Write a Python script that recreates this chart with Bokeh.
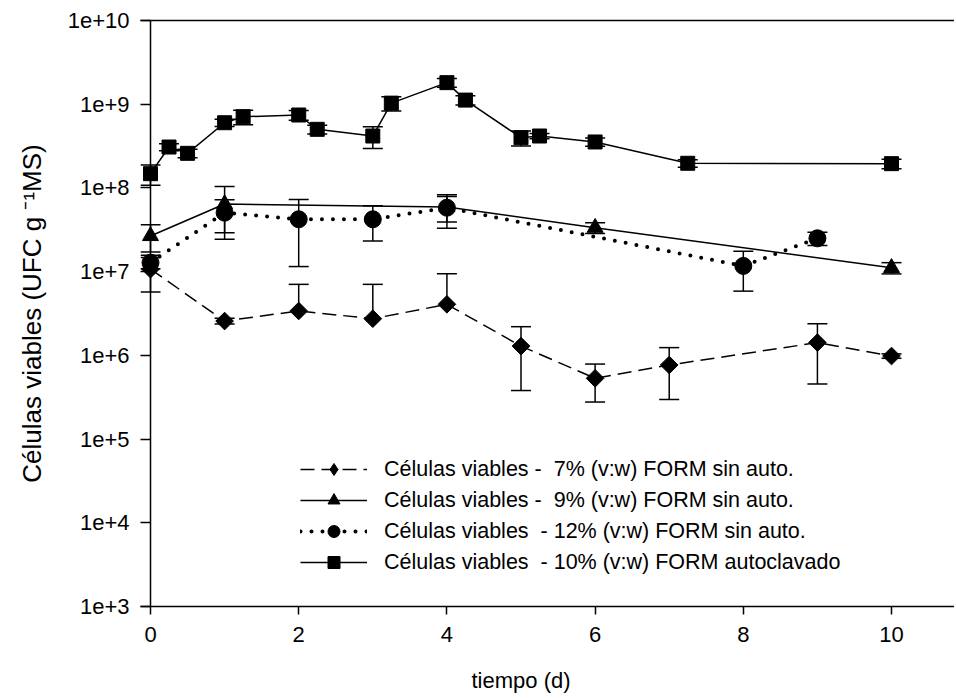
import math
from bokeh.plotting import figure
from bokeh.models import (ColumnDataSource, Whisker, TeeHead, FixedTicker, LinearAxis,
                          CustomJSTickFormatter, Legend, LegendItem, Span, Range1d)
from bokeh.embed import file_html
from bokeh.resources import INLINE

FONT = "Liberation Sans"

# ---- data ----
x_7 = [0, 1, 2, 3, 4, 5, 6, 7, 9, 10]
y_7 = [1.07e7, 2.57e6, 3.39e6, 2.74e6, 4.07e6, 1.29e6, 5.32e5, 7.67e5, 1.42e6, 9.82e5]
sd_7 = [5.0e6, 2.0e5, 3.66e6, 4.31e6, 5.37e6, 9.1e5, 2.55e5, 4.7e5, 9.65e5, 6.0e4]

x_9 = [0, 1, 4, 6, 10]
y_9 = [2.67e7, 6.43e7, 5.92e7, 3.35e7, 1.11e7]
sd_9 = [9.5e6, 4.0e7, 2.0e7, 5.0e6, 1.7e6]

x_12 = [0, 1, 2, 3, 4, 8, 9]
y_12 = [1.28e7, 5.06e7, 4.22e7, 4.22e7, 5.80e7, 1.17e7, 2.50e7]
sd_12 = [2.0e6, 2.14e7, 3.07e7, 1.9e7, 2.5e7, 5.85e6, 4.5e6]

x_10 = [0, 0.25, 0.5, 1, 1.25, 2, 2.25, 3, 3.25, 4, 4.25, 5, 5.25, 6, 7.25, 10]
y_10 = [1.48e8, 3.08e8, 2.59e8, 6.01e8, 7.09e8, 7.43e8, 5.01e8, 4.17e8, 1.03e9, 1.81e9,
        1.12e9, 3.98e8, 4.17e8, 3.54e8, 1.97e8, 1.95e8]
sd_10 = [4.0e7, 3.0e7, 3.0e7, 6.0e7, 1.4e8, 1.0e8, 6.0e7, 1.22e8, 2.0e8, 2.2e8,
         1.4e8, 8.1e7, 3.0e7, 4.0e7, 2.0e7, 2.5e7]

labels = [
    "Células viables -  7% (v:w) FORM sin auto.",
    "Células viables -  9% (v:w) FORM sin auto.",
    "Células viables  - 12% (v:w) FORM sin auto.",
    "Células viables  - 10% (v:w) FORM autoclavado",
]

x_ticks = [0, 2, 4, 6, 8, 10]
y_ticks = [1e3, 1e4, 1e5, 1e6, 1e7, 1e8, 1e9, 1e10]
x_title = "tiempo (d)"
x_title_pos = 5
y_title = "Células viables (UFC g \u207b\u00b9MS)"

# ---- figure ----
p = figure(width=954, height=698, y_axis_type="log",
           x_range=Range1d(-0.135, 10.85), y_range=Range1d(1e3, 1e10),
           output_backend="svg", toolbar_location=None,
           min_border_left=140, min_border_right=0, min_border_top=20, min_border_bottom=92)
p.outline_line_color = None
p.background_fill_color = "white"
p.border_fill_color = "white"
p.grid.visible = False

# x axis
xa = p.xaxis[0]
xa.ticker = FixedTicker(ticks=x_ticks, minor_ticks=[])
xa.major_tick_in = 0
xa.major_tick_out = 8
xa.major_tick_line_width = 1.5
xa.minor_tick_line_color = None
xa.axis_line_width = 1.5
xa.major_label_text_font = FONT
xa.major_label_text_font_size = "22px"
xa.major_label_text_color = "black"
xa.major_label_standoff = 12

# x axis title, drawn as the single label of a bare second axis (left of centre as in reference)
xt = LinearAxis(ticker=FixedTicker(ticks=[x_title_pos], minor_ticks=[]),
                formatter=CustomJSTickFormatter(code="return '%s';" % x_title),
                axis_line_color=None, major_tick_line_color=None, minor_tick_line_color=None,
                major_tick_in=0, major_tick_out=0, major_label_standoff=23,
                major_label_text_font=FONT, major_label_text_font_size="22px",
                major_label_text_color="black")
p.add_layout(xt, "below")

# y axis
ya = p.yaxis[0]
ya.ticker = FixedTicker(ticks=y_ticks, minor_ticks=[])
ya.formatter = CustomJSTickFormatter(code="return '1e+' + Math.round(Math.log10(tick));")
ya.axis_line_color = None
ya.major_tick_in = 10
ya.major_tick_out = 0
ya.major_tick_line_width = 1.5
ya.minor_tick_line_color = None
ya.major_label_text_font = FONT
ya.major_label_text_font_size = "22px"
ya.major_label_text_color = "black"
ya.major_label_standoff = 11
ya.axis_label = y_title
ya.axis_label_text_font = FONT
ya.axis_label_text_font_size = "26px"
ya.axis_label_text_font_style = "normal"
ya.axis_label_text_color = "black"
ya.axis_label_standoff = 18

# top line
top = LinearAxis(ticker=FixedTicker(ticks=[]), major_label_text_font_size="0px",
                 major_tick_line_color=None, minor_tick_line_color=None,
                 axis_line_width=1.5, major_label_standoff=0)
p.add_layout(top, "above")

# y axis line at x = 0
p.add_layout(Span(location=0, dimension="height", line_color="black", line_width=1.5))


def add_errors(xs, ys, sds):
    up = ColumnDataSource(dict(base=xs, lower=ys, upper=[y + s for y, s in zip(ys, sds)]))
    w1 = Whisker(base="base", lower="lower", upper="upper", source=up, dimension="height",
                 line_color="black", line_width=1.5, level="underlay",
                 upper_head=TeeHead(size=20, line_width=1.5, line_color="black"),
                 lower_head=None)
    p.add_layout(w1)
    lx, ll, lu = [], [], []
    for x, y, s in zip(xs, ys, sds):
        if y - s > 0:
            lx.append(x); ll.append(y - s); lu.append(y)
    lo = ColumnDataSource(dict(base=lx, lower=ll, upper=lu))
    w2 = Whisker(base="base", lower="lower", upper="upper", source=lo, dimension="height",
                 line_color="black", line_width=1.5, level="underlay",
                 lower_head=TeeHead(size=20, line_width=1.5, line_color="black"),
                 upper_head=None)
    p.add_layout(w2)


add_errors(x_7, y_7, sd_7)
add_errors(x_9, y_9, sd_9)
add_errors(x_12, y_12, sd_12)
add_errors(x_10, y_10, sd_10)

l7 = p.line(x_7, y_7, line_color="black", line_width=1.5, line_dash="14 7")
m7 = p.scatter(x_7, y_7, marker="square", angle=math.pi / 4, size=12.5,
               fill_color="black", line_color="black")
# legend-only diamond (the legend does not rotate markers)
m7_leg = p.scatter([float("nan")], [float("nan")], marker="diamond", size=14,
                   fill_color="black", line_color="black")

l9 = p.line(x_9, y_9, line_color="black", line_width=1.5)
m9 = p.scatter(x_9, y_9, marker="triangle", size=16, fill_color="black", line_color="black")

l12 = p.line(x_12, y_12, line_color="black", line_width=4, line_dash="0 11",
             line_cap="round")
m12 = p.scatter(x_12, y_12, marker="circle", size=17, fill_color="black", line_color="black")

l10 = p.line(x_10, y_10, line_color="black", line_width=1.5)
m10 = p.scatter(x_10, y_10, marker="square", size=14, fill_color="black", line_color="black")

legend = Legend(items=[
    LegendItem(label=labels[0], renderers=[l7, m7_leg]),
    LegendItem(label=labels[1], renderers=[l9, m9]),
    LegendItem(label=labels[2], renderers=[l12, m12]),
    LegendItem(label=labels[3], renderers=[l10, m10]),
], location=(160, 29), orientation="vertical")
legend.background_fill_alpha = 0
legend.border_line_color = None
legend.padding = 0
legend.margin = 0
legend.spacing = 1
legend.glyph_height = 30
legend.glyph_width = 67
legend.label_standoff = 17
legend.label_text_font = FONT
legend.label_text_font_size = "21.5px"
legend.label_text_color = "black"
legend.label_height = 30
p.add_layout(legend, "center")

open("out.html", "w").write(file_html(p, INLINE))
